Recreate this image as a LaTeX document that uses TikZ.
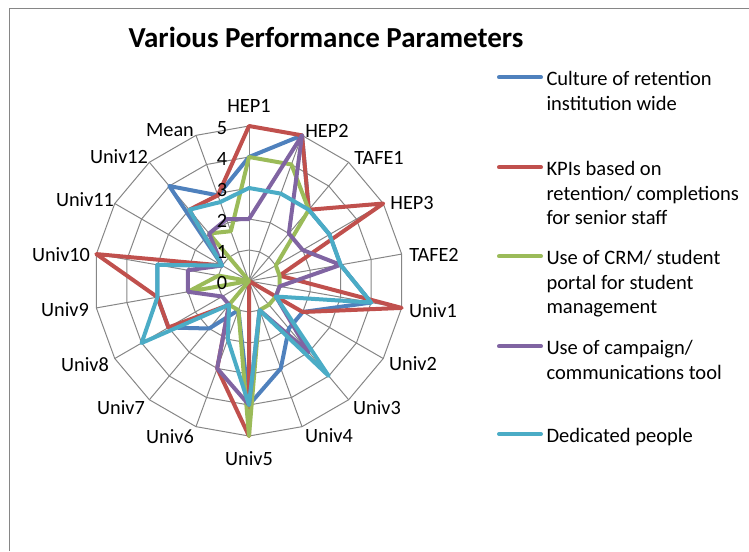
\documentclass[tikz,border=0pt]{standalone}
\usepackage{fontspec}
\setmainfont{Carlito}

\definecolor{culture}{RGB}{79,129,189}
\definecolor{kpis}{RGB}{192,80,77}
\definecolor{crm}{RGB}{155,187,89}
\definecolor{campaign}{RGB}{128,100,162}
\definecolor{dedicated}{RGB}{75,172,198}
\definecolor{gridgray}{RGB}{134,134,134}

\tikzset{every picture/.style={line width=0.75pt}}
\tikzset{
  gridline/.style={draw=gridgray, line width=0.75pt},
  series/.style={line width=3pt, line join=round, line cap=round},
  axislabel/.style={font=\fontsize{15.2}{18}\selectfont, inner sep=0pt},
  ticklabel/.style={font=\fontsize{15.2}{18}\selectfont, inner sep=0pt},
  legendtext/.style={font=\fontsize{15.4}{18.5}\selectfont, align=left, anchor=north west, inner sep=0pt},
  charttitle/.style={font=\fontsize{21.75}{26}\selectfont\bfseries, inner sep=0pt}
}

% values per axis: HEP1 ... Univ12, Mean
\def\cultureVals{{4,5,3,3,3,4,2,2,3,4,1,2,3,3,3,1,4,2.94}}
\def\kpisVals{{5,5,3,5,1,5,2,0,0,5,3,1,3,3,5,1,3,2.94}}
\def\crmVals{{4,4,3,1,1,1,1,1,1,5,1,1,0,2,1,0,2,1.71}}
\def\campaignVals{{2,5,2,2,3,1,1,3,1,4,3,1,1,2,2,1,2,2.12}}
\def\dedicatedVals{{3,3,3,3,3,4,1,4,1,4,2,1,4,3,3,1,3,2.71}}

\begin{document}
\begin{tikzpicture}[x=0.75pt,y=0.75pt,yscale=-1,xscale=1]
	\useasboundingbox (0,0) rectangle (749,551);
	
	%Chart frame
	\draw [gridgray] (9.5,551) -- (9.5,8) -- (749,8) ;
	
	% Title
	\node[charttitle] (title) at (326,37) {Various Performance Parameters};
	
	\begin{scope}[shift={(249,281)}]
		%Rings
		\foreach \lev in {1,...,5}
			\draw[gridline] ({-90}:{31*\lev}) \foreach \k in {1,...,17} { -- ({20*\k-90}:{31*\lev}) } -- cycle ;
		%Spokes
		\foreach \k in {0,...,17}
			\draw[gridline] (0,0) -- ({20*\k-90}:155) ;
		
		%Series
		\draw[series,culture] plot[samples at={0,...,17}] ({20*\x-90}:{31*\cultureVals[int(\x)]}) -- cycle ;
		\draw[series,kpis] plot[samples at={0,...,17}] ({20*\x-90}:{31*\kpisVals[int(\x)]}) -- cycle ;
		\draw[series,crm] plot[samples at={0,...,17}] ({20*\x-90}:{31*\crmVals[int(\x)]}) -- cycle ;
		\draw[series,campaign] plot[samples at={0,...,17}] ({20*\x-90}:{31*\campaignVals[int(\x)]}) -- cycle ;
		\draw[series,dedicated] plot[samples at={0,...,17}] ({20*\x-90}:{31*\dedicatedVals[int(\x)]}) -- cycle ;
	\end{scope}
	
	% Axis labels
	\foreach \nm/\lx/\ly in {HEP1/249/106, HEP2/327/131, TAFE1/379/158, HEP3/412/203, TAFE2/434/255,
		Univ1/433/311, Univ2/413/364, Univ3/377/408, Univ4/329/436, Univ5/249/459,
		Univ6/170/437, Univ7/121/408, Univ8/85/365, Univ9/65/310, Univ10/61/255,
		Univ11/85/200, Univ12/119/157, Mean/170/130}
		\node[axislabel] (\nm) at (\lx,\ly) {\nm};
	% Tick labels
	\foreach \lev in {0,...,5}
		\node[ticklabel] (tick\lev) at (222,{283.3-31*\lev}) {\lev};
	
	% Legend
	\node[legendtext] (legCulture) at (546,70.8) {Culture of retention\\institution wide};
	\node[legendtext] (legKpis) at (546,160.8) {KPIs based on\\retention/ completions\\for senior staff};
	\node[legendtext] (legCrm) at (546,249.8) {Use of CRM/ student\\portal for student\\management};
	\node[legendtext] (legCampaign) at (546,339.8) {Use of campaign/\\communications tool};
	\node[legendtext] (legDedicated) at (546,427.5) {Dedicated people};
	\draw[series,culture] (legCulture.north west) ++(-5,6.5) -- ++(-42,0) ;
	\draw[series,kpis] (legKpis.north west) ++(-5,6.5) -- ++(-42,0) ;
	\draw[series,crm] (legCrm.north west) ++(-5,6.5) -- ++(-42,0) ;
	\draw[series,campaign] (legCampaign.north west) ++(-5,6.5) -- ++(-42,0) ;
	\draw[series,dedicated] (legDedicated.north west) ++(-5,6.5) -- ++(-42,0) ;
	
\end{tikzpicture}
\end{document}
